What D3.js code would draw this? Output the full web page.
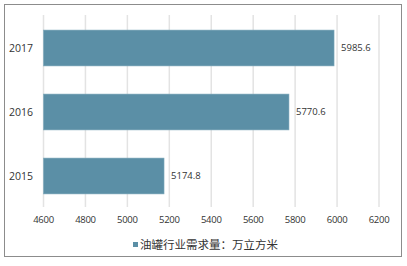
<!DOCTYPE html>
<html>
<head>
<meta charset="utf-8">
<script src="https://cdn.jsdelivr.net/npm/d3@7"></script>
<style>
body { margin: 0; background: #fff; }
text { font-family: "Open Sans", "Noto Sans CJK SC", sans-serif; fill: #333; }
</style>
</head>
<body>
<svg id="chart" width="407" height="266"></svg>
<script>
// data
const years = ["2017", "2016", "2015"];
const values = [5985.6, 5770.6, 5174.8];
const ticks = [4600, 4800, 5000, 5200, 5400, 5600, 5800, 6000, 6200];
const seriesName = "油罐行业需求量：万立方米";

const svg = d3.select("#chart");

// outer frame
svg.append("rect")
.attr("x", 4.5)
.attr("y", 4.5)
.attr("width", 397)
.attr("height", 252)
.attr("fill", "#fff")
.attr("stroke", "#8c8c8c")
.attr("stroke-width", 1);

let x = d3.scaleLinear()
.domain([4600, 6200])
.range([43.5, 379]);

let y = d3.scaleBand()
.domain(years)
.range([16, 208])
.paddingInner(0.44)
.paddingOuter(0.22);

// gridlines
svg.append("g")
.selectAll("line")
.data(ticks)
.join("line")
.attr("x1", d => x(d))
.attr("x2", d => x(d))
.attr("y1", 15)
.attr("y2", 207)
.attr("stroke", "#e3e3e3")
.attr("stroke-width", 1.5);

// bars
svg.append("g")
.selectAll("rect")
.data(values)
.join("rect")
.attr("x", x(4600))
.attr("y", (d, i) => y(years[i]))
.attr("width", d => x(d) - x(4600))
.attr("height", y.bandwidth())
.attr("fill", "#5b8fa6")
.attr("stroke", "#7fa9bc")
.attr("stroke-width", 0.6);

// value labels
svg.append("g")
.selectAll("text")
.data(values)
.join("text")
.attr("x", d => x(d) + 7)
.attr("y", (d, i) => y(years[i]) + y.bandwidth() / 2)
.attr("dy", "0.35em")
.style("font-size", "9.5px")
.text(d => d.toFixed(1));

// category labels
svg.append("g")
.selectAll("text")
.data(years)
.join("text")
.attr("x", 33)
.attr("y", d => y(d) + y.bandwidth() / 2)
.attr("dy", "0.35em")
.attr("text-anchor", "end")
.style("font-size", "10.5px")
.text(d => d);

// x tick labels
svg.append("g")
.selectAll("text")
.data(ticks)
.join("text")
.attr("x", d => x(d))
.attr("y", 220)
.attr("dy", "0.35em")
.attr("text-anchor", "middle")
.style("font-size", "9.5px")
.style("letter-spacing", "-0.3px")
.text(d => d);

// legend
svg.append("rect")
.attr("x", 133)
.attr("y", 242)
.attr("width", 5)
.attr("height", 5)
.attr("fill", "#5b8fa6");

svg.append("text")
.attr("x", 140)
.attr("y", 245)
.attr("dy", "0.35em")
.style("font-size", "11.5px")
.style("font-family", "'Noto Sans CJK SC', sans-serif")
.text(seriesName);
</script>
</body>
</html>
